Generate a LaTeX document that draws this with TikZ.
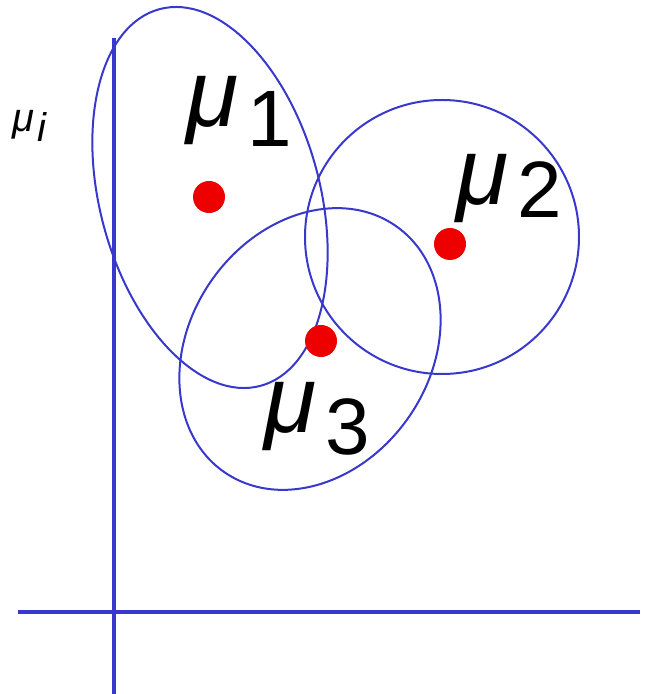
\documentclass[tikz,border=0pt]{standalone}
\usepackage{fontspec}
\setmainfont{Liberation Sans}
\definecolor{muBlue}{RGB}{56,56,204}
\definecolor{muRed}{RGB}{238,0,0}
\tikzset{
  blob/.style={line width=2pt, draw=muBlue},
  axis/.style={line width=3.6pt, draw=muBlue},
  mean/.style={circle, fill=muRed, inner sep=0pt, minimum size=32pt},
  mulabel/.style={inner sep=0pt, anchor=base west, font=\fontsize{95}{95}\selectfont\itshape},
}
\newcommand{\musub}[2]{μ\hspace{9pt}\raisebox{-#2}{\fontsize{80}{80}\selectfont\upshape #1}}

\begin{document}
\begin{tikzpicture}[x=1pt,y=1pt]
\useasboundingbox (0,0) rectangle (650,694);
% axes
\draw[axis] (114.0000,0.0000) -- (114.0000,656.0000);
\draw[axis] (18.0000,82.0000) -- (640.0000,82.0000);
% clusters
\draw[blob] (210.0000,496.5000) [rotate around={15:(210.0000,496.5000)}] ellipse (110 and 195);
\draw[blob] (442.0000,457.0000) ellipse (137 and 137);
\draw[blob] (310.0000,345.0000) [rotate around={-35:(310.0000,345.0000)}] ellipse (120 and 150);
% means
\node[mean] (m1) at (209.0000,497.0000) {};
\node[mean] (m2) at (450.0000,450.0000) {};
\node[mean] (m3) at (321.0000,353.0000) {};
\node[mulabel] (l1) at (186.0000,567.0000) {\musub{1}{20pt}};
\node[mulabel] (l2) at (456.0000,489.0000) {\musub{2}{13pt}};
\node[mulabel] (l3) at (264.0000,261.0000) {\musub{3}{22pt}};
\node[inner sep=0pt, anchor=base west, font=\fontsize{40}{40}\selectfont\itshape] (li) at (12.0000,562.0000) {μ\hspace{3pt}\raisebox{-10pt}{i}};
\end{tikzpicture}
\end{document}
